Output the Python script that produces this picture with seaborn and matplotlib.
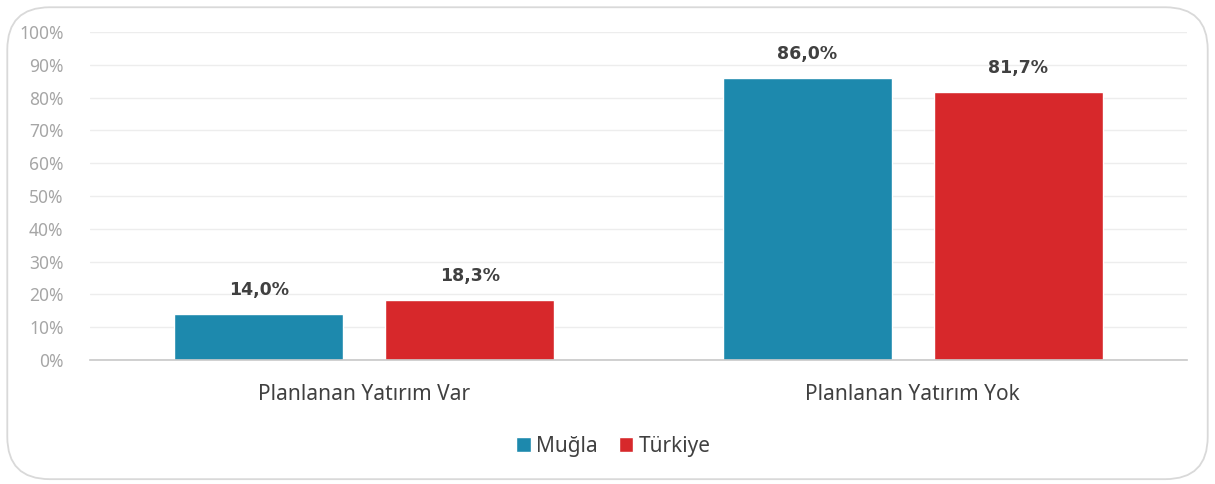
import matplotlib
matplotlib.use("Agg")
import matplotlib.pyplot as plt
import pandas as pd
import seaborn as sns
from matplotlib.patches import FancyBboxPatch
from matplotlib.ticker import PercentFormatter

categories = ["Planlanan Yatırım Var", "Planlanan Yatırım Yok"]
series_names = ["Muğla", "Türkiye"]
mugla_values = [14.0, 86.0]
turkiye_values = [18.3, 81.7]
colors = ["#1D89AD", "#D7282B"]

df = pd.DataFrame(
    {
        "kategori": categories * 2,
        "bolge": [series_names[0]] * 2 + [series_names[1]] * 2,
        "deger": mugla_values + turkiye_values,
    }
)

sns.set_style("white")
plt.rcParams["font.family"] = ["Noto Sans", "DejaVu Sans"]

fig = plt.figure(figsize=(12.15, 4.84), dpi=100)
ax = fig.add_axes([0.074, 0.256, 0.903, 0.678])

sns.barplot(
    data=df,
    x="kategori",
    y="deger",
    hue="bolge",
    palette=colors,
    saturation=1,
    width=0.77,
    gap=0.2,
    ax=ax,
    legend=True,
)

for container in ax.containers:
    labels = [f"{v:.1f}%".replace(".", ",") for v in container.datavalues]
    ax.bar_label(
        container,
        labels=labels,
        padding=11,
        fontsize=12.5,
        fontweight="bold",
        fontfamily="DejaVu Sans",
        color="#404040",
    )

ax.set_ylim(0, 100)
ax.set_yticks(range(0, 101, 10))
ax.yaxis.set_major_formatter(PercentFormatter(decimals=0))
ax.set_xlim(-0.5, 1.5)
ax.set_xlabel("")
ax.set_ylabel("")
ax.grid(axis="y", color="#EDEDED", linewidth=1)
ax.set_axisbelow(True)
for side in ["top", "right", "left"]:
    ax.spines[side].set_visible(False)
ax.spines["bottom"].set_color("#C8C8C8")
ax.spines["bottom"].set_linewidth(1.2)
ax.tick_params(axis="y", length=0, labelsize=12.5, labelcolor="#A6A6A6", pad=19)
ax.tick_params(axis="x", length=0, labelsize=15, labelcolor="#404040", pad=17)

handles, labels = ax.get_legend_handles_labels()
ax.legend(
    handles,
    labels,
    loc="center",
    bbox_to_anchor=(0.505, 0.078),
    bbox_transform=fig.transFigure,
    ncol=2,
    frameon=False,
    fontsize=15,
    handlelength=0.7,
    handleheight=0.7,
    handletextpad=0.25,
    columnspacing=1.0,
    labelcolor="#404040",
)

border = FancyBboxPatch(
    (0.006, 0.01),
    0.988,
    0.975,
    boxstyle="round,pad=0,rounding_size=0.035",
    transform=fig.transFigure,
    facecolor="none",
    edgecolor="#D9D9D9",
    linewidth=1.3,
    mutation_aspect=2.5,
)
fig.patches.append(border)

fig.savefig("out.png", dpi=100)
